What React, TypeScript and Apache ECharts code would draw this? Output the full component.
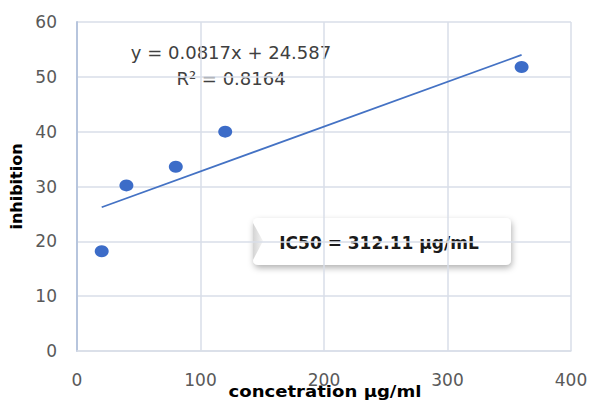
import React, { useEffect, useRef } from "react";
import * as echarts from "echarts";

// Measured points: concentration (µg/ml) vs. inhibition (%)
const concentrations = [20, 40, 80, 120, 360];
const inhibition = [18.2, 30.2, 33.6, 40.0, 51.8];

// Linear trendline coefficients and fit quality
const slope = 0.0817;
const intercept = 24.587;
const rSquared = 0.8164;
const ic50Text = "IC50 = 312.11 µg/mL";

const xTitle = "concetration µg/ml";
const yTitle = "inhibition";

const xTicks = { min: 0, max: 400, interval: 100 };
const yTicks = { min: 0, max: 60, interval: 10 };

const FONT = "'DejaVu Sans', 'Open Sans', sans-serif";

export default function App() {
  const ref = useRef<HTMLDivElement>(null);

  useEffect(() => {
    if (!ref.current) return;
    const chart = echarts.init(ref.current, undefined, { renderer: "svg" });

    const xStart = Math.min(...concentrations);
    const xEnd = Math.max(...concentrations);
    const trend = [
      [xStart, slope * xStart + intercept],
      [xEnd, slope * xEnd + intercept],
    ];

    chart.setOption({
      animation: false,
      backgroundColor: "#ffffff",
      grid: { left: 77, right: 22, top: 22, bottom: 50, outerBoundsMode: "none" },
      xAxis: {
        type: "value",
        ...xTicks,
        axisLine: { show: true, lineStyle: { color: "#d9dee8", width: 1.5 } },
        axisTick: { show: false },
        axisLabel: { fontFamily: FONT, fontSize: 17, color: "#595959", margin: 20 },
        splitLine: { show: true, lineStyle: { color: "#d9dee8", width: 1.5 } },
      },
      yAxis: {
        type: "value",
        ...yTicks,
        name: yTitle,
        nameLocation: "middle",
        nameGap: 49,
        nameTextStyle: { fontFamily: FONT, fontSize: 16, fontWeight: "bold", color: "#000" },
        axisLine: { show: true, lineStyle: { color: "#b7c5dd", width: 2 } },
        axisTick: { show: false },
        axisLabel: { fontFamily: FONT, fontSize: 17, color: "#595959", margin: 20 },
        splitLine: { show: true, lineStyle: { color: "#d9dee8", width: 1.5 } },
      },
      series: [
        {
          type: "line",
          data: trend,
          symbol: "none",
          lineStyle: { color: "#4472c4", width: 1.75 },
          z: 2,
        },
        {
          type: "scatter",
          data: concentrations.map((c, i) => [c, inhibition[i]]),
          symbol: "circle",
          symbolSize: [14, 12],
          itemStyle: { color: "#3c6cc8", opacity: 1 },
          z: 3,
        },
      ],
      graphic: [
        {
          type: "text",
          x: 231,
          y: 52,
          style: {
            text: `y = ${slope}x + ${intercept}`,
            font: `18px ${FONT}`,
            fill: "#404040",
            align: "center",
            verticalAlign: "middle",
          },
        },
        {
          type: "text",
          x: 231,
          y: 78,
          style: {
            text: `R² = ${rSquared}`,
            font: `18px ${FONT}`,
            fill: "#404040",
            align: "center",
            verticalAlign: "middle",
          },
        },
        {
          // x-axis title, sitting right at the bottom edge
          type: "text",
          x: 325,
          y: 391,
          scaleX: 1.13,
          style: {
            text: xTitle,
            font: `bold 16px ${FONT}`,
            fill: "#000",
            align: "center",
            verticalAlign: "middle",
          },
        },
        {
          type: "group",
          x: 253,
          y: 218,
          children: [
            {
              type: "rect",
              shape: { x: 0, y: 0, width: 258, height: 47, r: 5 },
              style: {
                fill: "#ffffff",
                shadowBlur: 6,
                shadowOffsetX: 1,
                shadowOffsetY: 3,
                shadowColor: "rgba(0,0,0,0.3)",
              },
            },
            {
              type: "polygon",
              shape: { points: [[0, 5], [10, 23], [0, 42]] },
              style: {
                fill: new echarts.graphic.LinearGradient(0, 0, 1, 0, [
                  { offset: 0, color: "#d4d4d4" },
                  { offset: 1, color: "#f4f4f4" },
                ]),
              },
            },
            {
              type: "text",
              x: 126,
              y: 25,
              style: {
                text: ic50Text,
                font: `bold 17px ${FONT}`,
                fill: "#1a1a1a",
                align: "center",
                verticalAlign: "middle",
              },
            },
          ],
        },
      ],
    });

    return () => chart.dispose();
  }, []);

  return (
    <div
      ref={ref}
      style={{ position: "fixed", left: 0, top: 0, width: 593, height: 401 }}
    />
  );
}
